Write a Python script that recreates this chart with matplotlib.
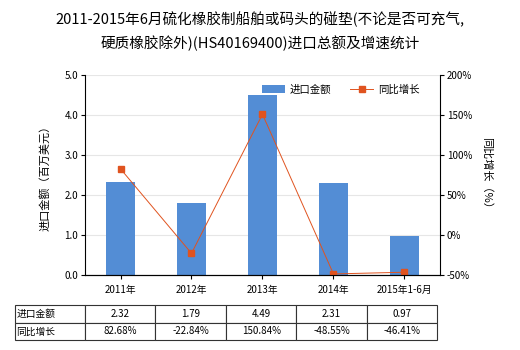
import matplotlib
matplotlib.use('Agg')
import matplotlib.pyplot as plt
import numpy as np

plt.rcParams['font.family'] = ['Noto Sans CJK SC', 'DejaVu Sans']

# data
categories = ['2011年', '2012年', '2013年', '2014年', '2015年1-6月']
import_value = [2.32, 1.79, 4.49, 2.31, 0.97]
growth = [82.68, -22.84, 150.84, -48.55, -46.41]
value_labels = ['2.32', '1.79', '4.49', '2.31', '0.97']
growth_labels = ['82.68%', '-22.84%', '150.84%', '-48.55%', '-46.41%']

bar_color = '#538dd5'
line_color = '#e0531f'

fig = plt.figure(figsize=(5.2, 3.5), dpi=100)
ax = fig.add_axes([0.1635, 0.214, 0.6825, 0.572])
x = np.arange(len(categories))

ax.bar(x, import_value, width=0.41, color=bar_color, zorder=2, label='进口金额')
ax.set_xlim(-0.5, len(categories) - 0.5)
ax.set_ylim(0, 5)
ax.set_yticks([0, 1, 2, 3, 4, 5])
ax.set_yticklabels(['0.0', '1.0', '2.0', '3.0', '4.0', '5.0'])
ax.set_xticks(x)
ax.set_xticklabels(categories)
ax.grid(axis='y', color='#e6e6e6', linewidth=0.8, zorder=0)
ax.tick_params(axis='both', labelsize=7, length=3, pad=2)
ax.tick_params(axis='x', length=3, pad=4)
ax.set_ylabel('进口金额（百万美元）', fontsize=8, labelpad=10)
for s in ['top', 'right']:
    ax.spines[s].set_visible(False)

ax2 = ax.twinx()
ax2.plot(x, growth, color=line_color, linewidth=0.7, marker='s', markersize=4, label='同比增长')
ax2.set_ylim(-50, 200)
ax2.set_yticks([-50, 0, 50, 100, 150, 200])
ax2.set_yticklabels(['-50%', '0%', '50%', '100%', '150%', '200%'])
ax2.tick_params(axis='y', labelsize=7, length=3, pad=2)
ax2.set_ylabel('同比增长（%）', fontsize=8, rotation=270, labelpad=14)
for s in ['top', 'left']:
    ax2.spines[s].set_visible(False)

h1, l1 = ax.get_legend_handles_labels()
h2, l2 = ax2.get_legend_handles_labels()
ax2.legend(h1 + h2, l1 + l2, loc='upper right', bbox_to_anchor=(0.97, 1.0), ncol=2,
           fontsize=7.5, frameon=False, handlelength=2.2, columnspacing=1.8,
           handletextpad=0.5)

# data table under the chart, first column holds the row names
cells = [['进口金额'] + value_labels, ['同比增长'] + growth_labels]
tbl = ax.table(cellText=cells, cellLoc='center',
               colWidths=[70 / 423] + [70.6 / 423] * 5,
               bbox=[-0.197, -0.325, 1.19, 0.175])
tbl.auto_set_font_size(False)
tbl.set_fontsize(7)
for (r, c), cell in tbl.get_celld().items():
    cell.set_edgecolor('#333333')
    cell.set_linewidth(0.8)
    if c == 0:
        cell._loc = 'left'
        cell.PAD = 0.02
        cell.get_text().set_horizontalalignment('left')

fig.text(0.5, 0.945, '2011-2015年6月硫化橡胶制船舶或码头的碰垫(不论是否可充气,', ha='center', va='center', fontsize=10.5)
fig.text(0.5, 0.875, '硬质橡胶除外)(HS40169400)进口总额及增速统计', ha='center', va='center', fontsize=10.5)

fig.savefig('out.png', dpi=100)
